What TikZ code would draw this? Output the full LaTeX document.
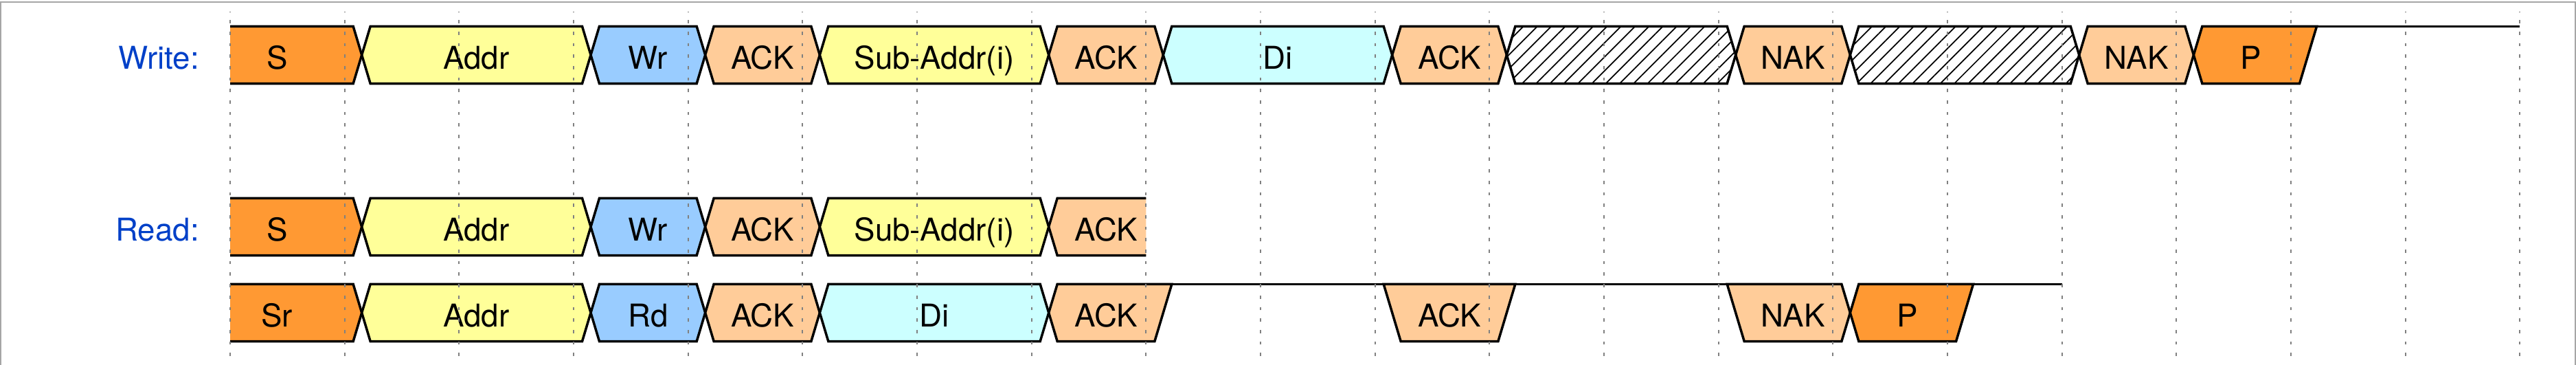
\documentclass[tikz,border=0pt]{standalone}
\usepackage{fontspec}
\setmainfont{TeX Gyre Heros}
\usetikzlibrary{patterns.meta}

\definecolor{startc}{RGB}{255,153,51}
\definecolor{addrc}{RGB}{255,255,153}
\definecolor{rwc}{RGB}{153,204,255}
\definecolor{ackc}{RGB}{255,204,153}
\definecolor{datac}{RGB}{204,255,255}
\definecolor{labc}{RGB}{0,64,200}

\begin{document}
\begin{tikzpicture}[
  box/.style={draw=black, line width=0.6pt},
  startbox/.style={fill=startc},
  addrbox/.style={fill=addrc},
  rwbox/.style={fill=rwc},
  ackbox/.style={fill=ackc},
  databox/.style={fill=datac},
  hatchbox/.style={pattern={Lines[angle=45, distance=2.45pt, line width=0.3pt]}},
  lbl/.style={font=\fontsize{7.8}{9}\selectfont, anchor=base, inner sep=0pt},
  rowlbl/.style={lbl, anchor=base east, text=labc},
  gridline/.style={gray, line width=0.35pt, dash pattern=on 0.8pt off 2.05pt},
  frameline/.style={gray!70, line width=0.35pt}
]
\useasboundingbox (-2.01,0) rectangle (20.49,3.186);
\draw[frameline] (-2.004,0) -- (-2.004,3.166) -- (20.482,3.166) -- (20.482,0);
% row labels
\node[rowlbl] (wlbl) at (-0.264,2.58) {Write:};
\node[rowlbl] (rlbl) at (-0.264,1.08) {Read:};
% start conditions
\foreach \ry/\txt/\nm in {2.706/S/wS, 1.206/S/rS, 0.456/Sr/qSr}
{
    \fill[startbox] (0,\ry+0.25) -- (1.075,\ry+0.25) -- (1.15,\ry) -- (1.075,\ry-0.25) -- (0,\ry-0.25) -- cycle;
    \draw[box] (0,\ry+0.25) -- (1.075,\ry+0.25) -- (1.15,\ry) -- (1.075,\ry-0.25) -- (0,\ry-0.25);
    \node[lbl] (\nm) at (0.41,\ry-0.126) {\txt};
}
% data fields
\foreach \ry/\xa/\xb/\sty/\txt/\nm in {
    2.706/1.15/3.15/addrbox/Addr/wAddr, 2.706/3.15/4.15/rwbox/Wr/wWr,
    2.706/4.15/5.15/ackbox/ACK/wAckA, 2.706/5.15/7.15/addrbox/Sub-Addr(i)/wSub,
    2.706/7.15/8.15/ackbox/ACK/wAckB, 2.706/8.15/10.15/databox/Di/wDi,
    2.706/10.15/11.15/ackbox/ACK/wAckC, 2.706/13.15/14.15/ackbox/NAK/wNakA,
    2.706/16.15/17.15/ackbox/NAK/wNakB,
    1.206/1.15/3.15/addrbox/Addr/rAddr, 1.206/3.15/4.15/rwbox/Wr/rWr,
    1.206/4.15/5.15/ackbox/ACK/rAckA, 1.206/5.15/7.15/addrbox/Sub-Addr(i)/rSub,
    0.456/1.15/3.15/addrbox/Addr/qAddr, 0.456/3.15/4.15/rwbox/Rd/qRd,
    0.456/4.15/5.15/ackbox/ACK/qAckA, 0.456/5.15/7.15/databox/Di/qDi}
{
    \draw[box,\sty] (\xa,\ry) -- (\xa+0.075,\ry+0.25) -- (\xb-0.075,\ry+0.25) -- (\xb,\ry)
        -- (\xb-0.075,\ry-0.25) -- (\xa+0.075,\ry-0.25) -- cycle;
    \node[lbl] (\nm) at ({(\xa+\xb)/2},\ry-0.126) {\txt};
}
\foreach \xa/\xb in {11.15/13.15, 14.15/16.15}
    \draw[box,hatchbox] (\xa,2.706) -- (\xa+0.075,2.956) -- (\xb-0.075,2.956) -- (\xb,2.706)
        -- (\xb-0.075,2.456) -- (\xa+0.075,2.456) -- cycle;
% write: stop
\draw[box,startbox] (17.15,2.706) -- (17.225,2.956) -- (18.225,2.956) -- (18.075,2.456) -- (17.225,2.456) -- cycle;
\draw[box] (18.225,2.956) -- (20,2.956);
\node[lbl] (wP) at (17.65,2.58) {P};
% read: last ack of first frame
\fill[ackbox] (7.15,1.206) -- (7.225,1.456) -- (8,1.456) -- (8,0.956) -- (7.225,0.956) -- cycle;
\draw[box] (8,1.456) -- (7.225,1.456) -- (7.15,1.206) -- (7.225,0.956) -- (8,0.956);
\node[lbl] (rAckB) at (7.65,1.08) {ACK};
% read: data phase
\draw[box,ackbox] (7.15,0.456) -- (7.225,0.706) -- (8.225,0.706) -- (8.075,0.206) -- (7.225,0.206) -- cycle;
\draw[box,ackbox] (10.075,0.706) -- (11.225,0.706) -- (11.075,0.206) -- (10.225,0.206) -- cycle;
\draw[box,ackbox] (13.075,0.706) -- (14.075,0.706) -- (14.15,0.456) -- (14.075,0.206) -- (13.225,0.206) -- cycle;
\draw[box,startbox] (14.15,0.456) -- (14.225,0.706) -- (15.225,0.706) -- (15.075,0.206) -- (14.225,0.206) -- cycle;
\draw[box] (8.225,0.706) -- (10.075,0.706) (11.225,0.706) -- (13.075,0.706) (15.225,0.706) -- (16,0.706);
\node[lbl] (qAckB) at (7.65,0.33) {ACK};
\node[lbl] (qAckC) at (10.65,0.33) {ACK};
\node[lbl] (qNak) at (13.65,0.33) {NAK};
\node[lbl] (qP) at (14.65,0.33) {P};
% time grid
\foreach \k in {0,...,20}
    \draw[gridline] (\k,0.078) -- (\k,3.084);
\end{tikzpicture}
\end{document}
